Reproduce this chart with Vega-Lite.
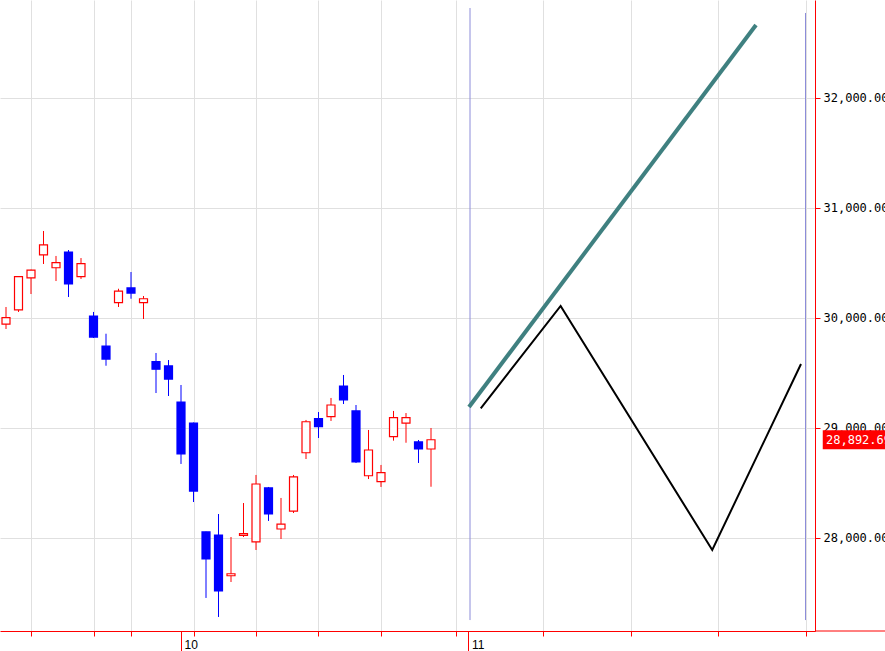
{
  "$schema": "https://vega.github.io/schema/vega-lite/v6.json",
  "autosize": "none",
  "width": 815,
  "height": 631,
  "padding": {"left": 0, "top": 0, "right": 70, "bottom": 20},
  "background": "white",
  "view": {"stroke": null},
  "config": {"axis": {"labelFont": "Liberation Sans", "labelColor": "#000000", "domainColor": "#ff0000", "tickColor": "#ff0000"}},
  "datasets": {
    "candles": [
      {"i": 0, "date": "2021-09-09", "open": 29945, "high": 30100, "low": 29900, "close": 30003},
      {"i": 1, "date": "2021-09-10", "open": 30073, "high": 30380, "low": 30055, "close": 30376},
      {"i": 2, "date": "2021-09-13", "open": 30364, "high": 30440, "low": 30218, "close": 30436},
      {"i": 3, "date": "2021-09-14", "open": 30573, "high": 30791, "low": 30491, "close": 30664},
      {"i": 4, "date": "2021-09-15", "open": 30457, "high": 30564, "low": 30336, "close": 30503},
      {"i": 5, "date": "2021-09-16", "open": 30600, "high": 30618, "low": 30191, "close": 30309},
      {"i": 6, "date": "2021-09-17", "open": 30376, "high": 30545, "low": 30355, "close": 30494},
      {"i": 7, "date": "2021-09-21", "open": 30018, "high": 30055, "low": 29818, "close": 29827},
      {"i": 8, "date": "2021-09-22", "open": 29745, "high": 29857, "low": 29566, "close": 29627},
      {"i": 9, "date": "2021-09-24", "open": 30139, "high": 30266, "low": 30100, "close": 30245},
      {"i": 10, "date": "2021-09-27", "open": 30273, "high": 30418, "low": 30175, "close": 30227},
      {"i": 11, "date": "2021-09-28", "open": 30139, "high": 30200, "low": 29991, "close": 30175},
      {"i": 12, "date": "2021-09-29", "open": 29603, "high": 29682, "low": 29318, "close": 29534},
      {"i": 13, "date": "2021-09-30", "open": 29564, "high": 29618, "low": 29291, "close": 29445},
      {"i": 14, "date": "2021-10-01", "open": 29236, "high": 29391, "low": 28673, "close": 28764},
      {"i": 15, "date": "2021-10-04", "open": 29045, "high": 29050, "low": 28327, "close": 28427},
      {"i": 16, "date": "2021-10-05", "open": 28055, "high": 28058, "low": 27455, "close": 27809},
      {"i": 17, "date": "2021-10-06", "open": 28027, "high": 28218, "low": 27282, "close": 27518},
      {"i": 18, "date": "2021-10-07", "open": 27657, "high": 28009, "low": 27600, "close": 27675},
      {"i": 19, "date": "2021-10-08", "open": 28024, "high": 28318, "low": 28009, "close": 28039},
      {"i": 20, "date": "2021-10-11", "open": 27964, "high": 28573, "low": 27891, "close": 28491},
      {"i": 21, "date": "2021-10-12", "open": 28455, "high": 28464, "low": 28155, "close": 28218},
      {"i": 22, "date": "2021-10-13", "open": 28082, "high": 28364, "low": 27991, "close": 28127},
      {"i": 23, "date": "2021-10-14", "open": 28245, "high": 28573, "low": 28227, "close": 28555},
      {"i": 24, "date": "2021-10-15", "open": 28775, "high": 29073, "low": 28718, "close": 29057},
      {"i": 25, "date": "2021-10-18", "open": 29085, "high": 29145, "low": 28909, "close": 29012},
      {"i": 26, "date": "2021-10-19", "open": 29103, "high": 29273, "low": 29064, "close": 29209},
      {"i": 27, "date": "2021-10-20", "open": 29382, "high": 29482, "low": 29218, "close": 29255},
      {"i": 28, "date": "2021-10-21", "open": 29155, "high": 29209, "low": 28682, "close": 28691},
      {"i": 29, "date": "2021-10-22", "open": 28566, "high": 28982, "low": 28536, "close": 28800},
      {"i": 30, "date": "2021-10-25", "open": 28512, "high": 28664, "low": 28464, "close": 28594},
      {"i": 31, "date": "2021-10-26", "open": 28921, "high": 29155, "low": 28885, "close": 29094},
      {"i": 32, "date": "2021-10-27", "open": 29045, "high": 29136, "low": 28866, "close": 29094},
      {"i": 33, "date": "2021-10-28", "open": 28873, "high": 28891, "low": 28682, "close": 28809},
      {"i": 34, "date": "2021-10-29", "open": 28809, "high": 29000, "low": 28466, "close": 28893}
    ],
    "teal": [
      {"i": 37.04, "price": 29191},
      {"i": 60.0, "price": 32664}
    ],
    "black": [
      {"i": 37.98, "price": 29179},
      {"i": 44.37, "price": 30109},
      {"i": 56.5, "price": 27891},
      {"i": 63.6, "price": 29582}
    ],
    "vlines": [
      {"i": 37.12, "top": 32818, "bottom": 27254},
      {"i": 63.96, "top": 32773, "bottom": 27254}
    ],
    "last": [{"price": 28892.69}],
    "base": [{"price": 27154.5}]
  },
  "resolve": {"axis": {"x": "independent"}},
  "layer": [
    {
      "data": {"name": "vlines"},
      "mark": {"type": "rule", "color": "#8c8cd9", "strokeWidth": 1},
      "encoding": {
        "x": {
          "field": "i", "type": "quantitative",
          "scale": {"domain": [-0.48, 64.72], "nice": false, "zero": false, "padding": 0},
          "axis": {
            "title": null, "orient": "bottom", "values": [2, 7, 10, 15, 20, 25, 30, 36, 43, 50, 57, 64],
            "grid": true, "gridColor": "#e0e0e0", "gridWidth": 1,
            "labels": false, "ticks": true, "tickColor": "#ff0000", "tickSize": 5, "tickWidth": 1,
            "domain": true, "domainColor": "#ff0000", "domainWidth": 1
          }
        },
        "y": {
          "field": "top", "type": "quantitative",
          "scale": {"domain": [27154.5, 32890.9], "nice": false, "zero": false, "padding": 0},
          "axis": {
            "title": null, "orient": "right", "values": [28000, 29000, 30000, 31000, 32000],
            "format": ",.2f", "labelFont": "DejaVu Sans Mono", "labelFontSize": 12, "labelColor": "#000000",
            "labelPadding": 3, "tickSize": 5, "tickColor": "#ff0000", "domainColor": "#ff0000",
            "grid": true, "gridColor": "#e0e0e0", "gridWidth": 1
          }
        },
        "y2": {"field": "bottom"}
      }
    },
    {
      "data": {"name": "candles"},
      "mark": {"type": "rule", "strokeWidth": 1},
      "encoding": {
        "x": {
          "field": "i", "type": "quantitative",
          "axis": {
            "title": null, "orient": "bottom", "values": [14, 37], "grid": false, "domain": false,
            "ticks": true, "tickColor": "#ff0000", "tickSize": 20, "tickWidth": 1,
            "labelExpr": "datum.value == 14 ? '10' : '11'",
            "labelAlign": "left", "labelBaseline": "top", "labelOffset": 3, "labelPadding": -12,
            "labelFont": "Liberation Sans", "labelFontSize": 12, "labelColor": "#000000", "labelOverlap": false
          }
        },
        "y": {"field": "low", "type": "quantitative"},
        "y2": {"field": "high"},
        "color": {"condition": {"test": "datum.close >= datum.open", "value": "#ff0000"}, "value": "#0000ff"}
      }
    },
    {
      "data": {"name": "candles"},
      "mark": {"type": "bar", "size": 8, "strokeWidth": 1.2, "orient": "vertical"},
      "encoding": {
        "x": {"field": "i", "type": "quantitative", "axis": null},
        "y": {"field": "open", "type": "quantitative"},
        "y2": {"field": "close"},
        "fill": {"condition": {"test": "datum.close >= datum.open", "value": "#ffffff"}, "value": "#0000ff"},
        "stroke": {"condition": {"test": "datum.close >= datum.open", "value": "#ff0000"}, "value": "#0000ff"}
      }
    },
    {
      "data": {"name": "teal"},
      "mark": {"type": "line", "color": "#3f8080", "strokeWidth": 4, "strokeCap": "butt"},
      "encoding": {
        "x": {"field": "i", "type": "quantitative", "axis": null},
        "y": {"field": "price", "type": "quantitative"}
      }
    },
    {
      "data": {"name": "black"},
      "mark": {"type": "line", "color": "#000000", "strokeWidth": 2},
      "encoding": {
        "x": {"field": "i", "type": "quantitative", "axis": null},
        "y": {"field": "price", "type": "quantitative"}
      }
    },
    {
      "data": {"name": "base"},
      "mark": {"type": "rule", "color": "#ff0000", "strokeWidth": 1},
      "encoding": {
        "x": {"datum": 64.72, "type": "quantitative", "axis": null},
        "x2": {"datum": 70.6},
        "y": {"field": "price", "type": "quantitative"}
      }
    },
    {
      "data": {"name": "last"},
      "mark": {"type": "bar", "orient": "horizontal", "size": 19, "color": "#ff0000"},
      "encoding": {
        "x": {"datum": 65.34, "type": "quantitative", "axis": null},
        "x2": {"datum": 70.6},
        "y": {"field": "price", "type": "quantitative"}
      }
    },
    {
      "data": {"name": "last"},
      "mark": {"type": "text", "align": "left", "baseline": "middle", "font": "DejaVu Sans Mono", "fontSize": 12, "color": "#ffffff"},
      "encoding": {
        "x": {"datum": 65.6, "type": "quantitative", "axis": null},
        "y": {"field": "price", "type": "quantitative"},
        "text": {"field": "price", "type": "quantitative", "format": ",.2f"}
      }
    }
  ]
}
